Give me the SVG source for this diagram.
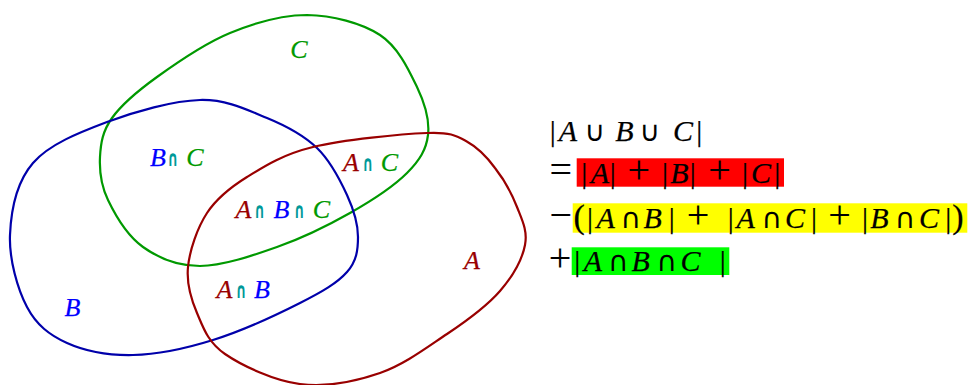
<svg xmlns="http://www.w3.org/2000/svg" width="973" height="385" viewBox="0 0 973 385">
<style>
.curve{fill:none;stroke-width:2.2;stroke-linejoin:round}
.lbl{font-family:"Liberation Serif","Times New Roman",serif;font-style:italic;font-size:26px;text-anchor:middle;stroke-width:0.25}
.cap{font-family:"DejaVu Sans",sans-serif;font-weight:bold;font-size:22px;fill:#009999;text-anchor:middle}
.red{fill:#990000;stroke:#990000}.blue{fill:#0000ff;stroke:#0000ff}.green{fill:#009900;stroke:#009900}
.f{font-family:"Liberation Serif","Times New Roman",serif;font-size:30px;fill:#000;stroke:#000;stroke-width:0.25;text-anchor:middle}
.it{font-style:italic}
.op{font-size:40px;stroke-width:0.1}
.so{font-family:"DejaVu Sans",sans-serif;font-size:28px;stroke-width:0}
.par{font-size:34px}
</style>
<rect width="973" height="385" fill="#fff"/>
<g id="set-C">
<path class="curve" stroke="#009900" d="M307,15 C332,15.3 361.7,23 380,35 C398.3,47 409,70.3 417,87 C425,103.7 429.7,120.7 428,135 C426.3,149.3 420,160 407,173 C394,186 371.7,200.7 350,213 C328.3,225.3 302,238.2 277,247 C252,255.8 222.3,266 200,266 C177.7,266 158.3,258 143,247 C127.7,236 115.2,215 108,200 C100.8,185 99.3,170.7 100,157 C100.7,143.3 102.5,131.3 112,118 C121.5,104.7 137.3,91.2 157,77 C176.7,62.8 205,43.3 230,33 C255,22.7 282,15 307,15 Z"/>
<text class="lbl green" x="299" y="58">C</text>
</g>
<g id="set-B">
<path class="curve" stroke="#0000aa" d="M200,100 C226.7,99.3 247.5,110 267,118 C286.5,126 303.7,135.2 317,148 C330.3,160.8 340.2,180.2 347,195 C353.8,209.8 358,224.2 358,237 C358,249.8 356.7,261 347,272 C337.3,283 322.3,291.7 300,303 C277.7,314.3 240.8,331.3 213,340 C185.2,348.7 157.3,354.5 133,355 C108.7,355.5 84.7,351 67,343 C49.3,335 36.5,325 27,307 C17.5,289 9,259 10,235 C11,211 16.8,181.8 33,163 C49.2,144.2 79.2,132.5 107,122 C134.8,111.5 173.3,100.7 200,100 Z"/>
<text class="lbl blue" x="72.5" y="316">B</text>
</g>
<g id="set-A">
<path class="curve" stroke="#990000" d="M427,133 C450,132 456,135.5 466,141 C477,147 487,157 495,168 C503.7,179 512,194.2 517,207 C522,219.8 527.8,230.7 525,245 C522.2,259.3 513,276 500,291 C487,306 468,320 447,334 C427,347.3 404.5,364.5 380,373 C355.5,381.5 325.8,387.2 300,384 C274.2,380.8 242.2,365.8 225,354 C207.8,342.2 203.2,327.5 197,313 C190.8,298.5 186.3,283.7 188,267 C189.7,250.3 197.2,228 207,213 C216.8,198 229.3,188 247,177 C264.7,166 283,154.3 313,147 C343,139.7 401.7,134 427,133 Z"/>
<text class="lbl red" x="472" y="269">A</text>
</g>
<g id="connectors"/>
<g id="label-BC">
<text class="lbl blue" x="158" y="165.5">B</text>
<text class="cap" x="173" y="165.5" textLength="11" lengthAdjust="spacingAndGlyphs">∩</text>
<text class="lbl green" x="195" y="165.5">C</text>
</g>
<g id="label-AC">
<text class="lbl red" x="351" y="170.5">A</text>
<text class="cap" x="368" y="170.5" textLength="11" lengthAdjust="spacingAndGlyphs">∩</text>
<text class="lbl green" x="389.5" y="170.5">C</text>
</g>
<g id="label-ABC">
<text class="lbl red" x="243.5" y="218.3">A</text>
<text class="cap" x="259.7" y="218.3" textLength="11" lengthAdjust="spacingAndGlyphs">∩</text>
<text class="lbl blue" x="281.5" y="218.3">B</text>
<text class="cap" x="299.5" y="218.3" textLength="11" lengthAdjust="spacingAndGlyphs">∩</text>
<text class="lbl green" x="321.5" y="218.3">C</text>
</g>
<g id="label-AB">
<text class="lbl red" x="224.5" y="298.3">A</text>
<text class="cap" x="241.2" y="298.3" textLength="11" lengthAdjust="spacingAndGlyphs">∩</text>
<text class="lbl blue" x="262" y="298.3">B</text>
</g>
<g id="formula">
<rect x="576.7" y="158.3" width="207.3" height="28.4" fill="#ff0000"/>
<rect x="572.7" y="203.3" width="394.6" height="29.4" fill="#ffff00"/>
<rect x="571.7" y="247.3" width="157.6" height="27.7" fill="#00ff00"/>
<text class="f" y="141"><tspan x="552.7">|</tspan><tspan class="it" x="568">A</tspan><tspan class="so" x="594.8">∪</tspan><tspan class="it" x="624.5">B</tspan><tspan class="so" x="649.8">∪</tspan><tspan class="it" x="683">C</tspan><tspan x="699.3">|</tspan></text>
<text class="f" y="183"><tspan class="op" x="560.8">=</tspan><tspan x="584.3">|</tspan><tspan class="it" x="600">A</tspan><tspan x="612.7">|</tspan><tspan class="op" x="638.7">+</tspan><tspan x="665">|</tspan><tspan class="it" x="679.5">B</tspan><tspan x="692.7">|</tspan><tspan class="op" x="719.5">+</tspan><tspan x="745">|</tspan><tspan class="it" x="761">C</tspan><tspan x="777.3">|</tspan></text>
<text class="f" y="227.5"><tspan class="op" x="560.8">−</tspan><tspan class="par" x="579.2">(</tspan><tspan x="590">|</tspan><tspan class="it" x="605.7">A</tspan><tspan class="so" x="630.7">∩</tspan><tspan class="it" x="652.7">B</tspan><tspan x="671.7">|</tspan><tspan class="op" x="698">+</tspan><tspan x="730.7">|</tspan><tspan class="it" x="745.7">A</tspan><tspan class="so" x="771.7">∩</tspan><tspan class="it" x="795">C</tspan><tspan x="814">|</tspan><tspan class="op" x="839.5">+</tspan><tspan x="865">|</tspan><tspan class="it" x="879.4">B</tspan><tspan class="so" x="905">∩</tspan><tspan class="it" x="929">C</tspan><tspan x="948.3">|</tspan><tspan class="par" x="958">)</tspan></text>
<text class="f" y="271"><tspan class="op" x="560">+</tspan><tspan x="577.3">|</tspan><tspan class="it" x="593">A</tspan><tspan class="so" x="618.3">∩</tspan><tspan class="it" x="640.7">B</tspan><tspan class="so" x="666.7">∩</tspan><tspan class="it" x="690.4">C</tspan><tspan x="722.7">|</tspan></text>
</g>
</svg>
